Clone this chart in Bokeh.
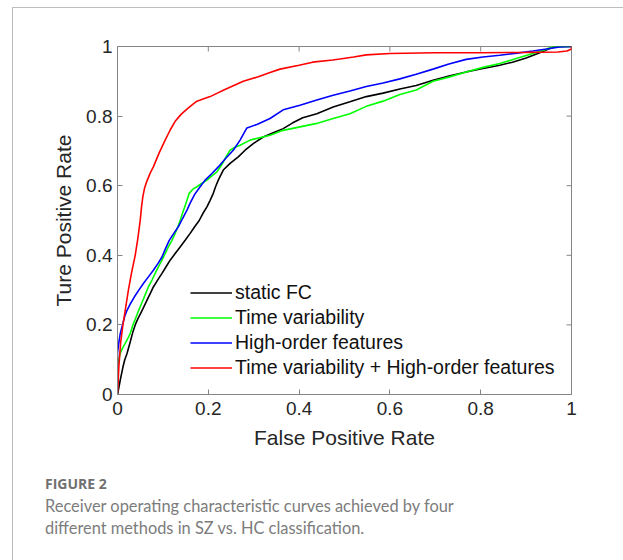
from bokeh.plotting import figure
from bokeh.layouts import column
from bokeh.models import Range1d, FixedTicker, Legend, LegendItem, Div
from bokeh.embed import file_html
from bokeh.resources import INLINE

# ROC curves: false positive rate / true positive rate for each method
fpr_static = [0, 0.003, 0.006, 0.009, 0.012, 0.016, 0.021, 0.029, 0.034, 0.039, 0.045, 0.051,
              0.058, 0.065, 0.072, 0.079, 0.088, 0.098, 0.107, 0.116, 0.127, 0.138, 0.149, 0.16,
              0.17, 0.18, 0.188, 0.197, 0.204, 0.211, 0.216, 0.222, 0.228, 0.233, 0.248, 0.266,
              0.281, 0.299, 0.321, 0.343, 0.365, 0.385, 0.408, 0.439, 0.475, 0.512, 0.548, 0.585,
              0.622, 0.658, 0.695, 0.73, 0.768, 0.805, 0.842, 0.87, 0.9, 0.93, 0.952, 0.966, 1.0]
tpr_static = [0, 0.02, 0.041, 0.06, 0.079, 0.1, 0.118, 0.156, 0.18, 0.2, 0.218, 0.233,
              0.252, 0.271, 0.29, 0.309, 0.328, 0.348, 0.367, 0.386, 0.405, 0.424, 0.443, 0.463,
              0.482, 0.5, 0.52, 0.539, 0.558, 0.578, 0.597, 0.616, 0.632, 0.645, 0.664, 0.683,
              0.702, 0.721, 0.74, 0.752, 0.764, 0.78, 0.795, 0.807, 0.826, 0.841, 0.856, 0.866,
              0.878, 0.888, 0.903, 0.915, 0.927, 0.937, 0.946, 0.955, 0.967, 0.982, 0.994, 1.0, 1.0]

fpr_timevar = [0, 0, 0.003, 0.006, 0.011, 0.017, 0.023, 0.028, 0.034, 0.039, 0.044, 0.05,
               0.056, 0.062, 0.068, 0.076, 0.083, 0.09, 0.098, 0.105, 0.112, 0.12, 0.127, 0.133,
               0.138, 0.143, 0.148, 0.153, 0.158, 0.166, 0.175, 0.186, 0.197, 0.208, 0.219, 0.226,
               0.233, 0.24, 0.248, 0.258, 0.27, 0.292, 0.336, 0.365, 0.402, 0.439, 0.475, 0.512,
               0.548, 0.585, 0.622, 0.658, 0.695, 0.73, 0.768, 0.805, 0.842, 0.88, 0.915, 0.94,
               0.959, 1.0]
tpr_timevar = [0, 0.085, 0.1, 0.118, 0.133, 0.147, 0.162, 0.175, 0.2, 0.216, 0.233, 0.252,
               0.271, 0.29, 0.309, 0.329, 0.348, 0.367, 0.386, 0.405, 0.424, 0.443, 0.463, 0.482,
               0.5, 0.52, 0.539, 0.558, 0.578, 0.59, 0.597, 0.607, 0.616, 0.628, 0.64, 0.653,
               0.668, 0.685, 0.702, 0.71, 0.716, 0.731, 0.745, 0.759, 0.769, 0.779, 0.793, 0.807,
               0.828, 0.843, 0.862, 0.875, 0.9, 0.912, 0.927, 0.94, 0.951, 0.966, 0.98, 0.99,
               1.0, 1.0]

fpr_highorder = [0, 0, 0.003, 0.006, 0.011, 0.016, 0.021, 0.028, 0.037, 0.047, 0.057, 0.068,
                 0.079, 0.089, 0.098, 0.106, 0.114, 0.124, 0.134, 0.143, 0.153, 0.16, 0.17, 0.182,
                 0.193, 0.208, 0.222, 0.238, 0.255, 0.27, 0.285, 0.307, 0.336, 0.365, 0.402, 0.439,
                 0.475, 0.512, 0.548, 0.585, 0.622, 0.658, 0.695, 0.73, 0.768, 0.805, 0.842, 0.88,
                 0.915, 0.945, 0.974, 1.0]
tpr_highorder = [0, 0.12, 0.15, 0.175, 0.2, 0.225, 0.242, 0.26, 0.28, 0.3, 0.319, 0.338,
                 0.357, 0.376, 0.395, 0.42, 0.443, 0.463, 0.482, 0.505, 0.53, 0.55, 0.575, 0.597,
                 0.616, 0.635, 0.654, 0.678, 0.702, 0.731, 0.766, 0.776, 0.793, 0.818, 0.831, 0.846,
                 0.86, 0.872, 0.885, 0.895, 0.907, 0.92, 0.935, 0.95, 0.963, 0.97, 0.975, 0.981,
                 0.987, 0.993, 0.999, 1.0]

fpr_combined = [0, 0.003, 0.007, 0.012, 0.018, 0.024, 0.031, 0.039, 0.045, 0.05, 0.053, 0.056,
                0.06, 0.065, 0.072, 0.079, 0.092, 0.105, 0.116, 0.127, 0.14, 0.153, 0.165, 0.175,
                0.19, 0.204, 0.22, 0.233, 0.255, 0.277, 0.31, 0.336, 0.358, 0.4, 0.43, 0.474,
                0.49, 0.52, 0.548, 0.6, 0.7, 0.8, 0.9, 0.97, 0.99, 1.0, 1.0]
tpr_combined = [0, 0.08, 0.15, 0.2, 0.25, 0.3, 0.35, 0.4, 0.45, 0.5, 0.54, 0.57,
                0.595, 0.614, 0.636, 0.654, 0.695, 0.731, 0.76, 0.785, 0.805, 0.82, 0.833, 0.843,
                0.85, 0.856, 0.866, 0.874, 0.887, 0.9, 0.913, 0.925, 0.935, 0.946, 0.955, 0.961,
                0.964, 0.97, 0.976, 0.98, 0.982, 0.982, 0.983, 0.984, 0.987, 0.993, 1.0]

series_names = ["static FC", "Time variability", "High-order features",
                "Time variability + High-order features"]
series_colors = ["#000000", "#00ff00", "#0000ff", "#ff0000"]

tick_values = [0, 0.2, 0.4, 0.6, 0.8, 1.0]
tick_labels = ["0", "0.2", "0.4", "0.6", "0.8", "1"]

caption_title = "FIGURE 2"
caption_lines = ["Receiver operating characteristic curves achieved by four",
                 "different methods in SZ vs. HC classification."]

# canvas / frame geometry (pixels)
W = 623
FIG_H = 460
CAP_H = 100
FL, FT, FW, FH = 117, 46, 454, 348

p = figure(width=W, height=FIG_H, output_backend="svg", toolbar_location=None,
           x_range=Range1d(0, 1), y_range=Range1d(0, 1),
           min_border_left=FL, min_border_right=W - FL - FW,
           min_border_top=FT, min_border_bottom=FIG_H - FT - FH,
           x_axis_label="False Positive Rate", y_axis_label="Ture Positive Rate")
p.grid.visible = False
p.background_fill_color = "white"
p.border_fill_alpha = 0

AX_COLOR = "#858585"
TXT_COLOR = "#262626"
FONT = "Liberation Sans"
p.outline_line_color = AX_COLOR
p.outline_line_width = 1

overrides = {v: s for v, s in zip(tick_values, tick_labels)}
for ax in (p.xaxis[0], p.yaxis[0]):
    ax.ticker = FixedTicker(ticks=tick_values)
    ax.major_label_overrides = overrides
    ax.axis_line_color = AX_COLOR
    ax.major_tick_line_color = AX_COLOR
    ax.major_tick_in = 5
    ax.major_tick_out = 0
    ax.minor_tick_line_color = None
    ax.major_label_text_font = FONT
    ax.major_label_text_font_size = "19px"
    ax.major_label_text_color = TXT_COLOR
    ax.axis_label_text_font = FONT
    ax.axis_label_text_font_size = "21px"
    ax.axis_label_text_font_style = "normal"
    ax.axis_label_text_color = TXT_COLOR

p.xaxis[0].major_label_standoff = 7
p.xaxis[0].axis_label_standoff = 8
p.yaxis[0].major_label_standoff = 5
p.yaxis[0].axis_label_standoff = 8

# inward ticks along the top and right edges of the box
tick_len_x = 5 / FH
tick_len_y = 5 / FW
p.segment(x0=tick_values, y0=[1.0] * len(tick_values),
          x1=tick_values, y1=[1.0 - tick_len_x] * len(tick_values),
          line_color=AX_COLOR, line_width=1)
p.segment(x0=[1.0] * len(tick_values), y0=tick_values,
          x1=[1.0 - tick_len_y] * len(tick_values), y1=tick_values,
          line_color=AX_COLOR, line_width=1)

curves = [(fpr_static, tpr_static), (fpr_timevar, tpr_timevar),
          (fpr_highorder, tpr_highorder), (fpr_combined, tpr_combined)]
items = []
for (xs, ys), name, color in zip(curves, series_names, series_colors):
    r = p.line(xs, ys, line_color=color, line_width=1.6)
    items.append(LegendItem(label=name, renderers=[r]))

legend = Legend(items=items, location=(73, 14), orientation="vertical",
                border_line_color=None, background_fill_alpha=0,
                padding=0, margin=0, spacing=0,
                glyph_width=42, glyph_height=25, label_height=25, label_standoff=3,
                label_text_font=FONT, label_text_font_size="19.5px",
                label_text_color="#111111")
p.add_layout(legend, "center")

caption_html = (
    '<div style="position:relative;width:%dpx;height:%dpx;">'
    '<div style="position:absolute;left:40px;top:12px;font-family:\'Open Sans\';'
    'font-size:14px;line-height:13px;font-weight:700;color:#707070;white-space:nowrap;">%s</div>'
    '<div style="position:absolute;left:40px;top:30px;font-family:Lato;'
    'font-size:16.4px;line-height:22px;color:#7c7c7c;white-space:nowrap;">%s</div>'
    '</div>'
) % (W, CAP_H, caption_title, "<br>".join(caption_lines))
caption = Div(text=caption_html, width=W, height=CAP_H)

# panel frame: thin grey rule along the top and the left side
frame_css = {
    "background": ("linear-gradient(#bdbdbd,#bdbdbd) 12px 7px / 1px 100% no-repeat, "
                   "linear-gradient(#bdbdbd,#bdbdbd) 12px 7px / 100% 1px no-repeat, white"),
}
layout = column(p, caption, spacing=0, styles=frame_css)

open("out.html", "w").write(file_html(layout, INLINE))
